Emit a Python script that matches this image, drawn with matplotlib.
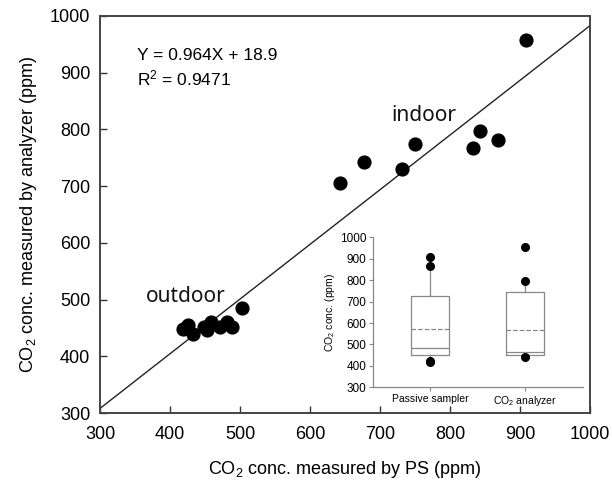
import matplotlib
matplotlib.use("Agg")
import matplotlib.pyplot as plt
import numpy as np

plt.rcParams['font.family'] = ['Liberation Sans', 'DejaVu Sans']
plt.rcParams['mathtext.fontset'] = 'custom'
plt.rcParams['mathtext.rm'] = 'Liberation Sans'
plt.rcParams['mathtext.it'] = 'Liberation Sans:italic'

# CO2 measured by passive sampler (x) and analyzer (y), ppm
ps_outdoor = [419, 426, 433, 448, 453, 459, 471, 481, 488, 503]
an_outdoor = [449, 455, 440, 451, 446, 461, 451, 461, 451, 485]
ps_indoor = [643, 677, 731, 750, 833, 843, 868, 908]
an_indoor = [706, 743, 730, 774, 767, 797, 781, 958]

fit_slope = 0.964
fit_intercept = 18.9
fit_r2 = 0.9471

# inset box plot stats
box_labels = ["Passive sampler", "CO$_2$ analyzer"]
box_q1 = [451, 451]
box_med = [482, 463]
box_q3 = [728, 743]
box_mean = [572, 569]
box_whislo = [432, 448]
box_whishi = [862, 781]
box_fliers = [[419, 424, 866, 907], [443, 797, 956]]

fig = plt.figure(figsize=(6.12, 4.83), dpi=100)
ax = fig.add_axes([0.1634, 0.1449, 0.8006, 0.822])

ax.scatter(ps_outdoor + ps_indoor, an_outdoor + an_indoor, s=85, color="black", zorder=3)
xl = np.array([300, 1000])
ax.plot(xl, fit_slope * xl + fit_intercept, color="#222222", lw=1.0)

ax.set_xlim(300, 1000)
ax.set_ylim(300, 1000)
ax.set_xticks(range(300, 1001, 100))
ax.set_yticks(range(300, 1001, 100))
ax.tick_params(direction="in", length=5, width=1, labelsize=13, color="#333333")
ax.tick_params(axis="x", pad=9)
ax.tick_params(axis="y", pad=7)
for s in ax.spines.values():
    s.set_color("#444444")
    s.set_linewidth(1.4)
ax.set_xlabel("CO$_2$ conc. measured by PS (ppm)", fontsize=13, labelpad=12)
ax.set_ylabel("CO$_2$ conc. measured by analyzer (ppm)", fontsize=13, labelpad=8)

ax.text(0.075, 0.888, "Y = %.3fX + %.1f" % (fit_slope, fit_intercept), transform=ax.transAxes,
        fontsize=12.5, va="baseline")
ax.text(0.075, 0.826, "R$^2$ = %.4f" % fit_r2, transform=ax.transAxes,
        fontsize=12.5, va="baseline")
ax.text(366, 506, "outdoor", fontsize=15, family="Noto Sans", va="center", color="#111111")
ax.text(716, 825, "indoor", fontsize=15, family="Noto Sans", va="center", color="#111111")

# inset box plot
ins = fig.add_axes([0.6095, 0.1981, 0.3431, 0.3106])
stats = []
for i in range(2):
    stats.append(dict(label=box_labels[i], q1=box_q1[i], med=box_med[i], q3=box_q3[i],
                      mean=box_mean[i], whislo=box_whislo[i], whishi=box_whishi[i],
                      fliers=box_fliers[i]))
gray = "#888888"
ins.bxp(stats, positions=[1, 2], widths=0.4, showmeans=True, meanline=True,
        showcaps=False,
        boxprops=dict(color=gray, lw=0.9),
        medianprops=dict(color=gray, lw=0.9),
        whiskerprops=dict(color=gray, lw=0.9),
        meanprops=dict(color=gray, lw=0.9, ls="--"),
        flierprops=dict(marker="o", markerfacecolor="black", markeredgecolor="black",
                        markersize=5.5))
ins.set_xlim(0.4, 2.61)
ins.set_ylim(300, 1000)
ins.set_yticks(range(300, 1001, 100))
ins.spines["top"].set_visible(False)
ins.spines["right"].set_visible(False)
for s in ["left", "bottom"]:
    ins.spines[s].set_color(gray)
    ins.spines[s].set_linewidth(0.9)
ins.tick_params(direction="out", length=3, width=0.8, color=gray, pad=2)
ins.tick_params(axis="y", labelsize=8.5)
ins.tick_params(axis="x", labelsize=7.5)
ins.set_ylabel("CO$_2$ conc. (ppm)", fontsize=7.5, labelpad=2)

fig.savefig("out.png", dpi=100)
